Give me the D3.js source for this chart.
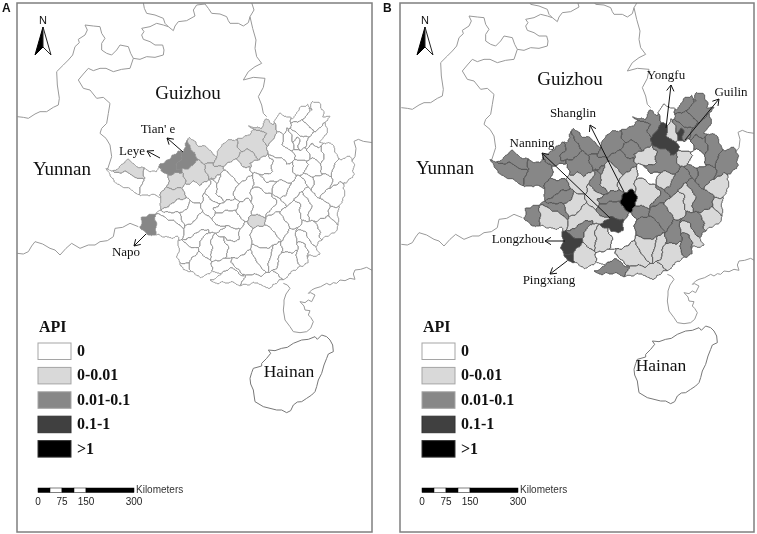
<!DOCTYPE html>
<html><head><meta charset="utf-8">
<style>html,body{margin:0;padding:0;background:#fff}svg{display:block;filter:blur(0.35px)}</style>
<script src="https://cdn.jsdelivr.net/npm/d3@7/dist/d3.min.js"></script>
</head><body><svg id="c" width="757" height="534"></svg>
<script>
// API class breaks
const apiLabels = ['0','0-0.01','0.01-0.1','0.1-1','>1'];
const apiFills = ['#ffffff','#d9d9d9','#878787','#404040','#000000'];
const scaleStops = [0,37.5,75,112.5,150,300];
const scaleTicks = [0,75,150,300];

// Guangxi outline and county outlines (traced map units)
const guangxiOutline = [[35,210],[62,213],[75,200],[92,183],[112,193],[130,200],[147,206],[165,218],[182,223],[194,193],[215,178],[237,166],[258,158],[272,143],[274,123],[277,113],[297,123],[312,143],[337,148],[357,168],[375,145],[392,128],[417,123],[432,113],[457,108],[472,93],[457,83],[480,88],[497,88],[505,70],[512,53],[537,78],[542,63],[547,43],[565,50],[582,53],[592,58],[600,40],[607,28],[625,25],[637,18],[642,33],[647,15],[652,3],[672,10],[675,30],[682,53],[700,58],[689,73],[695,90],[687,108],[672,130],[695,135],[715,140],[720,170],[735,180],[750,170],[765,185],[777,205],[775,230],[760,240],[745,250],[738,245],[748,270],[748,290],[735,305],[725,320],[730,345],[725,375],[715,400],[695,415],[680,420],[665,430],[655,440],[670,465],[640,470],[637,495],[615,505],[590,512],[575,520],[570,535],[555,545],[540,558],[520,565],[505,560],[490,552],[465,558],[440,555],[415,552],[395,555],[375,550],[340,545],[360,532],[375,522],[345,515],[328,530],[310,540],[295,525],[280,512],[258,513],[255,495],[245,475],[245,450],[250,418],[225,415],[190,405],[180,413],[157,408],[127,383],[142,353],[165,350],[182,346],[192,330],[190,298],[192,293],[160,290],[132,283],[105,275],[78,262],[50,245]];
const countyRings = [
/*0*/[[35,210],[60,225],[87,220],[112,231],[140,238],[132,283],[105,275],[50,245]],
/*1*/[[62,213],[92,183],[112,193],[147,206],[140,238],[112,231],[87,220]],
/*2*/[[140,238],[147,206],[182,223],[197,213],[202,223],[217,228],[212,273],[192,293],[132,283]],
/*3*/[[217,228],[262,223],[262,268],[232,273],[212,261]],
/*4*/[[194,193],[237,166],[252,166],[257,178],[240,200],[247,213],[262,213],[252,223],[217,226]],
/*5*/[[252,166],[272,143],[274,123],[287,143],[302,183],[282,203],[262,213],[247,213],[240,200],[257,178]],
/*6*/[[277,113],[297,123],[312,143],[337,148],[357,168],[347,188],[327,198],[302,183],[287,143]],
/*7*/[[282,203],[302,183],[327,198],[337,243],[312,261],[290,245],[270,255],[262,223],[262,213]],
/*8*/[[327,198],[347,188],[357,198],[392,218],[362,228],[337,243]],
/*9*/[[357,168],[392,128],[417,123],[432,148],[427,173],[392,198],[357,193]],
/*10*/[[430,113],[457,108],[472,93],[507,98],[502,118],[482,183],[467,153],[432,148]],
/*11*/[[420,178],[432,158],[457,153],[477,173],[482,183],[467,208],[442,198]],
/*12*/[[457,83],[497,88],[512,53],[537,78],[532,98],[512,118],[502,118],[507,98],[472,93]],
/*13*/[[392,198],[420,178],[442,198],[462,210],[455,235],[425,250],[392,218]],
/*14*/[[337,243],[362,228],[392,218],[375,220],[362,250],[345,240]],
/*15*/[[345,240],[362,250],[365,280],[385,310],[370,315],[345,300],[330,285],[340,250]],
/*16*/[[375,220],[392,218],[425,250],[420,265],[415,300],[385,310],[365,280],[362,250]],
/*17*/[[420,265],[425,250],[455,235],[470,245],[470,270],[465,310],[455,298],[430,305],[415,300]],
/*18*/[[262,268],[270,255],[290,245],[312,261],[337,243],[340,250],[330,285],[310,320],[280,300]],
/*19*/[[212,261],[232,273],[262,268],[270,298],[237,308],[192,330],[190,298],[192,293]],
/*20*/[[192,330],[237,308],[270,298],[280,300],[272,330],[255,345],[225,340]],
/*21*/[[192,330],[225,340],[255,345],[262,380],[270,385],[250,385],[210,350],[182,346]],
/*22*/[[127,383],[142,353],[182,346],[177,383],[180,413],[157,408]],
/*23*/[[182,346],[210,350],[250,385],[265,395],[250,418],[190,405],[180,413],[177,383]],
/*24*/[[272,330],[280,300],[310,320],[320,340],[297,365],[262,380],[255,345]],
/*25*/[[330,285],[345,300],[370,315],[352,325],[360,340],[350,360],[320,340],[310,320]],
/*26*/[[352,325],[370,315],[385,310],[415,300],[430,305],[422,335],[385,340],[360,340]],
/*27*/[[360,340],[385,340],[422,335],[445,365],[430,388],[385,385],[355,375],[350,360]],
/*28*/[[422,315],[430,305],[455,298],[470,330],[472,350],[450,367],[445,365],[422,335]],
/*29*/[[355,400],[385,385],[430,388],[432,420],[400,430],[385,415]],
/*30*/[[262,380],[297,365],[320,340],[350,360],[355,375],[385,385],[355,400],[335,392],[305,400],[275,420],[265,395]],
/*31*/[[275,420],[305,400],[335,392],[332,410],[310,440],[290,445],[270,430]],
/*32*/[[245,450],[270,430],[290,445],[307,460],[285,480],[280,490],[255,495]],
/*33*/[[255,495],[280,490],[280,512],[258,513]],
/*34*/[[310,440],[332,410],[355,400],[345,440],[345,480],[320,475],[307,460]],
/*35*/[[355,400],[385,415],[395,450],[390,480],[345,480],[345,440]],
/*36*/[[385,415],[400,430],[432,420],[430,388],[445,367],[450,367],[465,390],[470,440],[415,480],[390,480],[395,450]],
/*37*/[[285,480],[307,460],[320,475],[345,480],[350,490],[345,515],[310,540],[280,512],[280,490]],
/*38*/[[340,545],[380,520],[410,508],[445,530],[440,555],[395,555],[375,550]],
/*39*/[[350,490],[390,480],[415,480],[408,490],[445,530],[410,508],[380,520],[345,515]],
/*40*/[[408,490],[415,480],[460,455],[500,510],[490,530],[445,530]],
/*41*/[[445,530],[490,530],[530,520],[555,545],[520,565],[490,550],[440,555]],
/*42*/[[460,455],[470,440],[500,445],[528,440],[520,500],[500,510]],
/*43*/[[528,440],[555,430],[555,460],[545,510],[520,510],[520,500]],
/*44*/[[555,460],[600,455],[605,480],[615,505],[580,515],[555,535],[530,520],[545,510]],
/*45*/[[605,430],[625,435],[635,495],[615,505],[605,480],[600,455]],
/*46*/[[605,395],[630,400],[650,435],[670,465],[640,470],[625,435],[605,430]],
/*47*/[[465,390],[505,375],[520,385],[560,430],[528,440],[500,445],[470,440]],
/*48*/[[450,367],[472,350],[510,350],[505,375],[465,390]],
/*49*/[[510,350],[555,340],[575,375],[575,395],[560,430],[520,385],[505,375]],
/*50*/[[575,395],[590,385],[600,415],[605,430],[600,455],[555,460],[555,430],[560,430]],
/*51*/[[465,310],[470,270],[495,265],[525,285],[540,315],[510,350],[472,350]],
/*52*/[[530,285],[550,300],[570,320],[555,340],[510,350],[540,315]],
/*53*/[[555,340],[570,320],[590,300],[610,320],[620,370],[590,385],[575,375]],
/*54*/[[590,300],[595,290],[620,280],[645,320],[640,365],[620,370],[610,320]],
/*55*/[[620,370],[655,365],[680,420],[650,435],[630,400],[605,395]],
/*56*/[[655,365],[670,360],[700,355],[725,375],[710,410],[680,420]],
/*57*/[[700,330],[725,320],[728,365],[725,375],[700,355]],
/*58*/[[635,265],[650,270],[670,295],[700,325],[700,355],[670,360],[640,365],[645,320],[620,280]],
/*59*/[[670,295],[705,270],[730,245],[748,290],[725,320],[700,325]],
/*60*/[[705,270],[705,235],[720,190],[750,170],[775,205],[775,230],[745,250],[730,245]],
/*61*/[[650,230],[680,225],[705,235],[705,270],[670,295],[650,270]],
/*62*/[[610,230],[625,228],[650,230],[650,270],[635,265],[625,250]],
/*63*/[[585,250],[610,230],[625,250],[635,265],[620,280],[590,300],[570,320],[550,300],[570,290]],
/*64*/[[530,270],[540,250],[560,245],[585,250],[570,290],[550,300],[530,285]],
/*65*/[[470,245],[490,225],[510,245],[540,250],[530,270],[530,285],[495,265],[470,270]],
/*66*/[[462,195],[490,180],[530,190],[530,220],[490,225],[470,210]],
/*67*/[[530,180],[555,180],[575,195],[590,185],[595,220],[585,250],[560,245],[540,250],[510,245],[490,225],[530,220],[530,190]],
/*68*/[[535,175],[545,110],[560,110],[562,142],[590,150],[595,180],[575,195],[555,180]],
/*69*/[[560,110],[572,85],[592,125],[598,150],[590,150],[562,142]],
/*70*/[[592,125],[605,115],[612,130],[610,155],[598,150]],
/*71*/[[598,150],[610,155],[635,155],[640,175],[620,190],[595,180],[590,150]],
/*72*/[[595,180],[620,190],[637,200],[625,228],[610,230],[595,220],[590,185]],
/*73*/[[635,195],[650,175],[675,190],[680,225],[650,230],[625,228],[637,200]],
/*74*/[[635,155],[650,130],[680,165],[682,185],[675,190],[650,175],[640,175]],
/*75*/[[682,185],[680,165],[695,135],[715,140],[720,190],[705,235],[680,225],[675,190]],
/*76*/[[592,58],[607,28],[637,18],[622,68],[587,68]],
/*77*/[[622,68],[642,33],[652,3],[672,10],[682,53],[700,58],[689,73],[667,88],[647,88]],
/*78*/[[587,68],[622,68],[647,88],[642,108],[617,118],[592,93]],
/*79*/[[577,88],[592,93],[617,118],[637,118],[632,143],[612,155],[612,130],[605,115],[592,125]],
/*80*/[[642,108],[667,88],[689,73],[687,108],[667,133],[650,130],[635,155],[632,143]],
/*81*/[[542,63],[547,43],[582,53],[587,68],[577,88],[572,85],[560,110],[547,88]]
];
const apiClassA = [0,1,0,1,2,2,1,1,1,1,1,1,1,0,0,0,0,0,0,1,0,0,2,0,0,0,0,0,0,0,0,0,0,0,0,0,0,0,0,0,0,0,0,0,0,0,0,0,1,0,0,0,0,0,0,0,0,0,0,0,0,0,0,0,0,0,0,0,0,0,0,0,0,0,0,0,0,0,0,0,0,0];
const apiClassB = [2,2,2,0,2,2,2,2,2,2,2,2,2,2,2,2,1,1,1,2,2,2,2,1,1,1,2,2,4,3,1,2,3,3,1,1,0,1,2,0,1,1,1,1,1,2,1,2,2,2,2,1,2,1,1,2,1,1,2,1,2,2,2,2,1,0,1,2,3,1,3,0,1,0,2,2,2,2,2,2,2,0];

// Other borders (traced map units)
const borderLines = [
 [[52,350],[70,352],[85,355],[105,342],[120,335],[140,335],[160,322],[175,315],[178,295],[172,255],[170,215],[190,195],[205,180],[218,165],[225,140],[238,128],[235,118],[255,105],[262,90],[255,75],[280,78],[300,80],[305,100],[315,115],[305,130],[305,150],[320,160],[335,165],[350,150],[360,135],[385,140],[392,160],[400,175],[420,178],[440,170],[465,172],[490,165],[492,150],[488,135],[465,135],[450,125],[430,118],[425,105],[432,95],[425,85],[450,80],[470,70],[490,75],[505,80],[520,92],[525,78],[535,65],[560,62],[585,48],[580,30],[590,15],[615,12],[625,25],[635,40],[660,42],[680,50],[685,62],[690,70],[715,70],[730,78],[745,68],[750,50],[762,30],[755,8]],
 [[430,8],[433,25],[440,40],[465,45],[490,55],[495,70],[505,80]],
 [[750,50],[758,85],[768,120],[765,145],[770,170],[785,190],[765,200],[745,215],[730,240],[760,232],[795,235],[790,262],[775,290],[785,315],[790,340],[800,350]],
 [[400,175],[390,205],[365,208],[340,215],[318,205],[300,205],[280,212],[265,205],[250,222],[235,240],[250,265],[270,270],[290,295],[310,292],[330,310],[325,340],[320,370],[305,385],[300,400],[318,415],[330,435],[335,470],[322,510]],
 [[52,760],[70,762],[85,755],[95,738],[105,725],[128,732],[150,745],[165,750],[180,765],[198,745],[215,730],[240,745],[265,735],[285,735],[300,725],[322,722],[340,710],[345,685],[368,682],[390,670],[415,680]],
 [[1118,428],[1090,424],[1075,418],[1062,424],[1068,445],[1065,470],[1050,490]],
 [[850,850],[862,855],[870,865],[858,882],[852,900],[852,912],[850,930],[855,960],[870,980],[880,995],[900,998],[920,995],[932,985],[940,965],[932,952],[925,945],[930,932],[915,930],[912,918],[900,905],[915,908],[925,900],[935,905],[945,885],[932,878],[925,880],[935,870],[945,865],[962,860],[980,850],[990,855],[1000,848],[1010,850],[1020,840],[1035,842],[1050,835],[1065,838],[1060,822],[1065,810],[1082,808],[1100,802],[1118,812]]
];
const hainanRing = [[750,1135],[755,1118],[760,1105],[785,1098],[785,1090],[800,1075],[812,1060],[805,1050],[825,1052],[845,1045],[862,1042],[880,1030],[905,1020],[925,1018],[945,1010],[952,1018],[965,1005],[980,1010],[990,1020],[998,1035],[1000,1055],[985,1062],[980,1075],[972,1095],[965,1120],[955,1140],[950,1160],[945,1175],[935,1185],[920,1195],[905,1205],[892,1206],[880,1215],[872,1232],[860,1238],[845,1230],[830,1230],[810,1225],[790,1220],[765,1205],[762,1185],[760,1170],[752,1152]];

const panels = [
 {letter:'A', dx:0, dy:0, left:17, right:372, api:apiClassA, stroke:'#8c8c8c', legendDx:0, arrowDx:0,
  regions:[['Guizhou',188,93],['Yunnan',62,169],['Hainan',289,371]],
  callouts:[["Tian' e",158,129,183,152,167,138],['Leye',132,151,160,158,147,151],['Napo',126,252,146,234,134,246]]},
 {letter:'B', dx:384, dy:-9, left:400, right:754, api:apiClassB, stroke:'#4f4f4f', legendDx:384, arrowDx:382,
  regions:[['Guizhou',570,79],['Yunnan',445,168],['Hainan',661,365]],
  callouts:[['Yongfu',666,75,666,128,671,85],['Guilin',731,92,685,140,719,99],['Shanglin',573,113,624,192,590,125],['Nanning',532,143,610,218,542,153],['Longzhou',518,239,565,241,545,241],['Pingxiang',549,280,567,261,550,274]]}
];

// Gap-free mosaic: every grid cell inside the outline joins its nearest traced county.
// The sample point is nudged slightly so shared borders read as natural boundaries rather than straight chords.
const cell=2, gx0=20, gy0=-10, gw=400, gh=300;
function segDist2(px,py,a,b){const vx=b[0]-a[0],vy=b[1]-a[1],wx=px-a[0],wy=py-a[1];
  let t=(wx*vx+wy*vy)/(vx*vx+vy*vy||1);t=t<0?0:t>1?1:t;const dx=wx-t*vx,dy=wy-t*vy;return dx*dx+dy*dy;}
const boxes=countyRings.map(r=>[d3.min(r,p=>p[0]),d3.min(r,p=>p[1]),d3.max(r,p=>p[0]),d3.max(r,p=>p[1])]);
const labels=new Int16Array(gw*gh).fill(-1);
for(let j=0;j<gh;j++)for(let i=0;i<gw;i++){
  const x0=gx0+(i+.5)*cell,y0=gy0+(j+.5)*cell;
  const x=x0+3.5*Math.sin(y0/11+1.3)+2*Math.sin(y0/5.1+x0/7), y=y0+3.5*Math.sin(x0/12)+2*Math.sin(x0/4.7-y0/6);
  if(!d3.polygonContains(guangxiOutline,[x,y]))continue;
  let best=1e12,bi=-1;
  countyRings.forEach((r,k)=>{
    const b=boxes[k];const ex=Math.max(b[0]-x,0,x-b[2]),ey=Math.max(b[1]-y,0,y-b[3]);
    if(ex*ex+ey*ey>best)return;
    let d=1e12;
    if(ex===0&&ey===0&&d3.polygonContains(r,[x,y]))d=0;
    else for(let m=0;m<r.length;m++){const q=segDist2(x,y,r[m],r[(m+1)%r.length]);if(q<d)d=q;}
    if(d<=best){best=d;bi=k;}
  });
  labels[j*gw+i]=bi;
}
const contourer=d3.contours().size([gw,gh]).thresholds([0.5]);
const countyShapes=countyRings.map((r,k)=>contourer(Array.from(labels,v=>v===k?1:0))[0]);

const svg = d3.select('#c');
const unit = d3.scaleLinear().domain([0,3]).range([0,1]);
const asFeature = r => ({type:'Polygon',coordinates:[[...r,r[0]]]});
const asLine = r => ({type:'LineString',coordinates:r});
const countyOrigin = [288,297];

panels.forEach((p,pi)=>{
  const g = svg.append('g');
  const clipId = 'clip'+p.letter;
  svg.append('clipPath').attr('id',clipId).append('rect').attr('x',p.left).attr('y',3).attr('width',p.right-p.left).attr('height',529);
  const geoBase = d3.geoPath(d3.geoTransform({point(x,y){this.stream.point(unit(x)+p.dx,unit(y)+p.dy);}}));
  const geoCounty = d3.geoPath(d3.geoTransform({point(x,y){this.stream.point(
     unit(gx0+x*cell+countyOrigin[0])+p.dx,unit(gy0+y*cell+countyOrigin[1])+p.dy);}}));
  const map = g.append('g').attr('clip-path',`url(#${clipId})`);
  map.selectAll('path.b').data(borderLines).join('path').attr('class','b')
    .attr('d',d=>geoBase(asLine(d))).attr('fill','none').attr('stroke','#999').attr('stroke-width',1);
  map.append('path').attr('d',geoBase(asFeature(hainanRing))).attr('fill','#fff').attr('stroke','#777').attr('stroke-width',1);
  map.selectAll('path.c').data(countyShapes).join('path').attr('class','c')
    .attr('d',d=>geoCounty(d))
    .attr('fill',(d,i)=>apiFills[p.api[i]])
    .attr('stroke',p.stroke).attr('stroke-width',1).attr('stroke-linejoin','round');

  g.append('rect').attr('x',p.left).attr('y',3).attr('width',p.right-p.left).attr('height',529)
    .attr('fill','none').attr('stroke','#7f7f7f').attr('stroke-width',1.5);
  g.append('text').attr('x',pi?383:2).attr('y',12).text(p.letter)
    .attr('font-family','Liberation Sans').attr('font-weight','bold').attr('font-size',12).attr('fill','#111');

  g.selectAll('text.r').data(p.regions).join('text').attr('class','r')
    .attr('x',d=>d[1]).attr('y',d=>d[2]+6).text(d=>d[0]).attr('text-anchor','middle')
    .attr('font-family','Liberation Serif').attr('font-size',(d)=>d[0]==='Hainan'?17.5:19).attr('fill','#111');
  g.selectAll('text.l').data(p.callouts).join('text').attr('class','l')
    .attr('x',d=>d[1]).attr('y',d=>d[2]+4).text(d=>d[0]).attr('text-anchor','middle')
    .attr('font-family','Liberation Serif').attr('font-size',13).attr('fill','#111');
  const head=(d)=>{const a=Math.atan2(d[6]-d[4],d[5]-d[3]),h=7,w=0.55;
    return `M${d[5]-h*Math.cos(a-w)},${d[6]-h*Math.sin(a-w)}L${d[5]},${d[6]}L${d[5]-h*Math.cos(a+w)},${d[6]-h*Math.sin(a+w)}`;};
  g.selectAll('path.a').data(p.callouts).join('path').attr('class','a')
    .attr('d',d=>`M${d[3]},${d[4]}L${d[5]},${d[6]}`+head(d))
    .attr('fill','none').attr('stroke','#111').attr('stroke-width',1);

  const ax=43+p.arrowDx;
  g.append('text').attr('x',ax).attr('y',24).text('N').attr('text-anchor','middle')
    .attr('font-family','Liberation Sans').attr('font-size',11).attr('fill','#111');
  g.append('path').attr('d',`M${ax},27L${ax-8},55L${ax},47Z`).attr('fill','#000').attr('stroke','#000');
  g.append('path').attr('d',`M${ax},27L${ax+8},55L${ax},47Z`).attr('fill','#fff').attr('stroke','#222');

  const lx=38+p.legendDx;
  const ly=d3.scaleBand().domain(apiLabels).range([343,465]).paddingInner(0);
  g.append('text').attr('x',lx+1).attr('y',332).text('API').attr('font-family','Liberation Serif').attr('font-weight','bold').attr('font-size',16).attr('fill','#111');
  g.selectAll('rect.s').data(apiLabels).join('rect').attr('class','s')
    .attr('x',lx).attr('y',d=>ly(d)).attr('width',33).attr('height',16.5)
    .attr('fill',(d,i)=>apiFills[i]).attr('stroke',(d,i)=>i<3?'#a5a5a5':'#333');
  g.selectAll('text.t').data(apiLabels).join('text').attr('class','t')
    .attr('x',lx+39).attr('y',d=>ly(d)+13).text(d=>d)
    .attr('font-family','Liberation Serif').attr('font-weight','bold').attr('font-size',16).attr('fill','#111');

  const sb=d3.scaleLinear().domain([0,300]).range([lx,lx+96]);
  g.selectAll('rect.k').data(d3.pairs(scaleStops)).join('rect').attr('class','k')
    .attr('x',d=>sb(d[0])).attr('y',488).attr('width',d=>sb(d[1])-sb(d[0])).attr('height',4.5)
    .attr('fill',(d,i)=>i%2?'#fff':'#000').attr('stroke','#000').attr('stroke-width',0.5);
  g.selectAll('text.k').data(scaleTicks).join('text').attr('class','k')
    .attr('x',d=>sb(d)).attr('y',505).text(d=>d).attr('text-anchor','middle')
    .attr('font-family','Liberation Sans').attr('font-size',10).attr('fill','#222');
  g.append('text').attr('x',sb(300)+2).attr('y',493).text('Kilometers')
    .attr('font-family','Liberation Sans').attr('font-size',10).attr('fill','#333');
});
</script></body></html>
